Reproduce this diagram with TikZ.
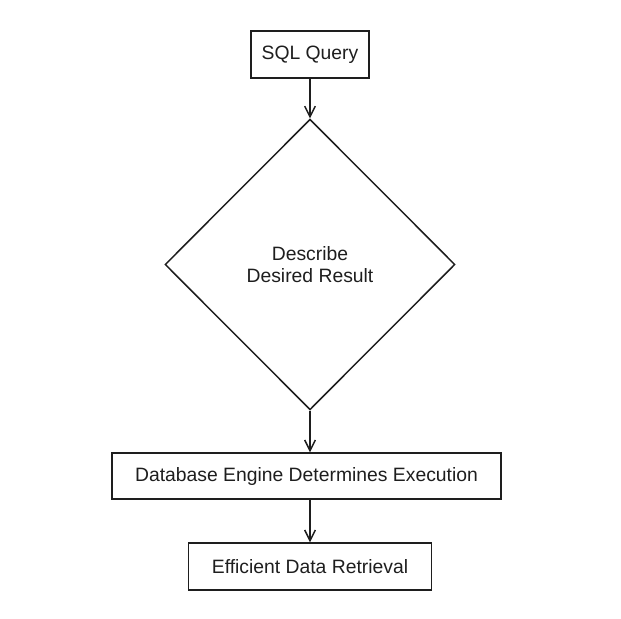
\documentclass[tikz,border=0pt]{standalone}
\usepackage{fontspec}
\setmainfont{Liberation Sans}
\usetikzlibrary{arrows.meta,shapes.geometric}
\definecolor{ink}{HTML}{1E1E1E}
\begin{document}
\begin{tikzpicture}[x=0.75pt,y=-0.75pt,
  box/.style={draw=ink,line width=1.1pt,rectangle,inner sep=0pt,font=\fontsize{14.5}{17}\selectfont,text=ink},
  decision/.style={draw=ink,line width=1.1pt,diamond,inner sep=0pt,align=center,font=\fontsize{14.5}{16.5}\selectfont,text=ink},
  flow/.style={draw=ink,line width=1.1pt,-{Straight Barb[length=8pt,width=8pt]}}]
\useasboundingbox (0,0) rectangle (621,618);
\node[box,minimum width=88.5pt,minimum height=35.25pt] (q) at (310,54.5) {SQL Query};
\node[decision,minimum width=217.5pt,minimum height=218pt] (d) at (310,264.5) {Describe\\Desired Result};
\node[box,minimum width=291.75pt,minimum height=34.5pt] (e) at (306.5,476) {Database Engine Determines Execution};
\node[box,minimum width=182.25pt,minimum height=35.25pt] (r) at (310,566.5) {Efficient Data Retrieval};
\draw[flow] (q.south) -- (d.north);
\draw[flow] (d.south) -- (d.south |- e.north);
\draw[flow] (e.south -| r.north) -- (r.north);
\end{tikzpicture}
\end{document}
